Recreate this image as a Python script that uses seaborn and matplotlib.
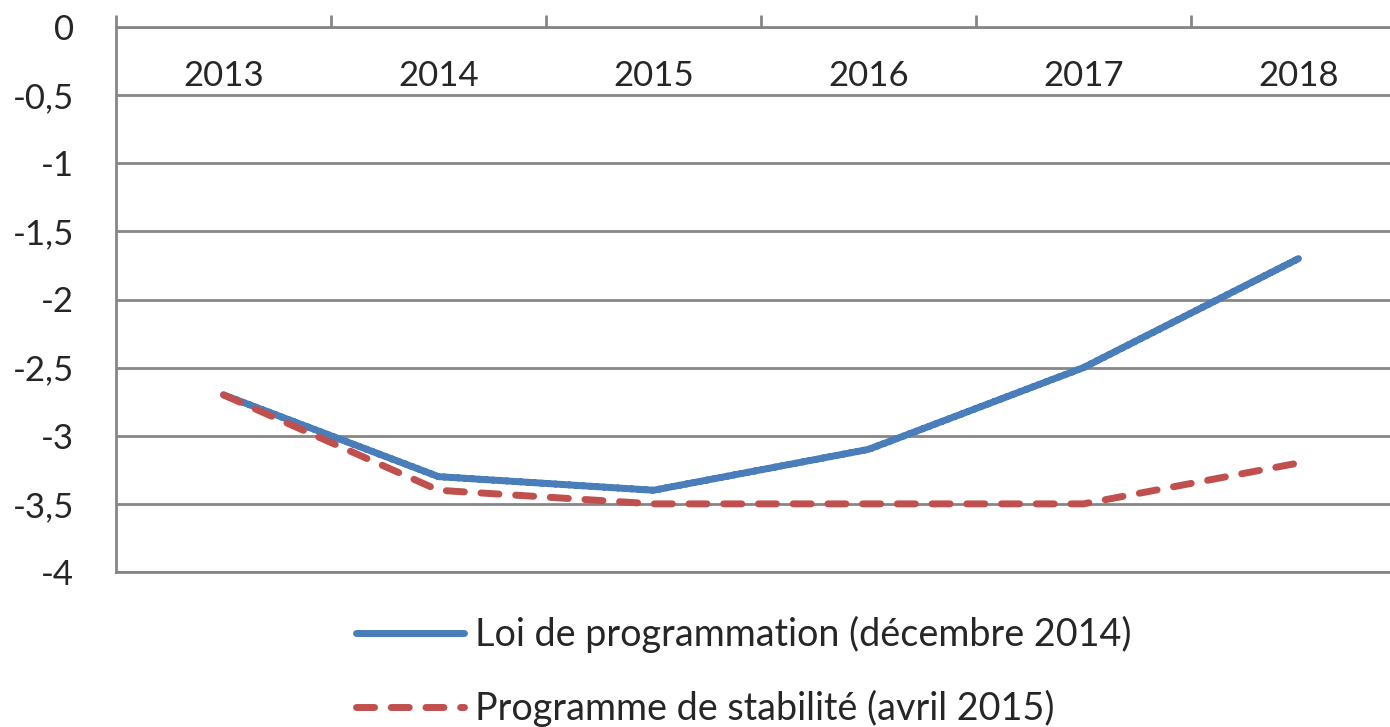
import numpy as np
import pandas as pd
import seaborn as sns
import matplotlib.pyplot as plt
from matplotlib.ticker import FixedLocator

years = ["2013", "2014", "2015", "2016", "2017", "2018"]
loi_prog = [-2.7, -3.3, -3.4, -3.1, -2.5, -1.7]
prog_stab = [-2.7, -3.4, -3.5, -3.5, -3.5, -3.2]
series_names = ["Loi de programmation (décembre 2014)", "Programme de stabilité (avril 2015)"]
y_ticks = [0, -0.5, -1, -1.5, -2, -2.5, -3, -3.5, -4]
y_labels = ["0", "-0,5", "-1", "-1,5", "-2", "-2,5", "-3", "-3,5", "-4"]

df = pd.DataFrame({
    "year": years * 2,
    "value": loi_prog + prog_stab,
    "serie": [series_names[0]] * len(years) + [series_names[1]] * len(years),
})

sns.set_style("white")
plt.rcParams["font.family"] = ["Lato", "DejaVu Sans"]

grey = "#868686"
fig = plt.figure(figsize=(13.9, 7.27), dpi=100)
ax = fig.add_axes([116 / 1390, 155 / 727, 1290 / 1390, 545 / 727])

sns.lineplot(data=df, x="year", y="value", hue="serie", style="serie",
             palette=["#4A7EBB", "#C0504D"], dashes=[(1, 0), (2.6, 2.4)],
             linewidth=5, ax=ax, legend=True, sort=False,
             solid_capstyle="round", dash_capstyle="round",
             solid_joinstyle="round", dash_joinstyle="round")

ax.set_xlim(-0.5, 5.5)
ax.set_ylim(-4, 0)
ax.set_xlabel("")
ax.set_ylabel("")

# axe des catégories en haut (à y = 0), libellés sous l'axe
ax.xaxis.tick_top()
ax.set_xticks(range(len(years)))
ax.set_xticklabels(years)
ax.xaxis.set_minor_locator(FixedLocator(np.arange(-0.5, 6, 1)))
ax.tick_params(axis="x", which="major", length=0, pad=-47, labelsize=25)
ax.tick_params(axis="x", which="minor", top=True, length=8.6, width=2, color=grey)

ax.set_yticks(y_ticks)
ax.set_yticklabels(y_labels)
ax.tick_params(axis="y", length=0, pad=30, labelsize=25)
ax.yaxis.grid(True, color=grey, linewidth=2)
ax.set_axisbelow(True)

for side in ["top", "left", "bottom"]:
    ax.spines[side].set_color(grey)
    ax.spines[side].set_linewidth(2)
ax.spines["right"].set_visible(False)

handles, labels = ax.get_legend_handles_labels()
for h in handles:
    h.set_linewidth(5)
    h.set_solid_capstyle("round")
    h.set_dash_capstyle("round")
ax.legend(handles, labels, loc="upper left", bbox_to_anchor=(356 / 1390, 1 - 616 / 727),
          bbox_transform=fig.transFigure, frameon=False, fontsize=27.2,
          borderpad=0, borderaxespad=0,
          handlelength=2.85, handletextpad=0.3, labelspacing=0.98)

fig.savefig("out.png", dpi=100)
